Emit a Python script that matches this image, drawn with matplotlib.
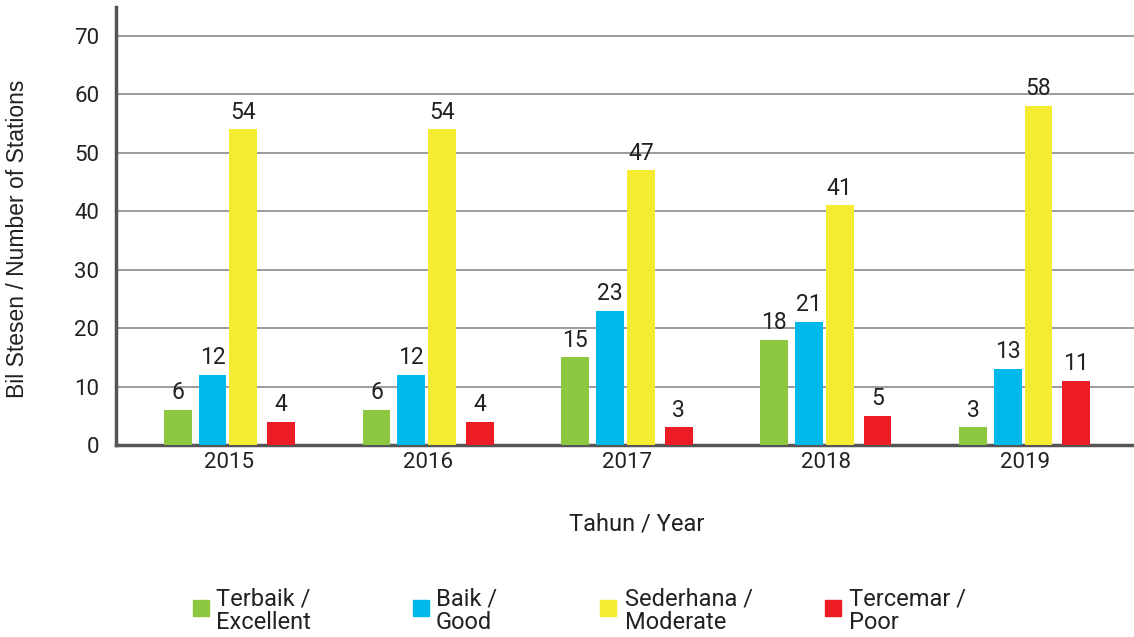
import matplotlib.pyplot as plt
from matplotlib.patches import Rectangle
import numpy as np

# Données : nombre de stations par classe de qualité
annees = ["2015", "2016", "2017", "2018", "2019"]
terbaik = [6, 6, 15, 18, 3]
baik = [12, 12, 23, 21, 13]
sederhana = [54, 54, 47, 41, 58]
tercemar = [4, 4, 3, 5, 11]

libelles = ["Terbaik /\nExcellent", "Baik /\nGood", "Sederhana /\nModerate", "Tercemar /\nPoor"]
couleurs = ["#8DC63F", "#00B9EB", "#F5EB32", "#ED1C24"]
decalages = [-0.26, -0.085, 0.07, 0.26]
largeur = 0.14

plt.rcParams['font.family'] = ['Roboto', 'DejaVu Sans']

fig = plt.figure(figsize=(11.34, 6.37), dpi=100)
ax = fig.add_axes([0.1023, 0.3014, 0.8977, 0.688])

x = np.arange(len(annees))
for serie, couleur, dx in zip([terbaik, baik, sederhana, tercemar], couleurs, decalages):
    barres = ax.bar(x + dx, serie, width=largeur, color=couleur, zorder=3)
    for b, v in zip(barres, serie):
        ax.text(b.get_x() + b.get_width() / 2, v + 1.0, str(v),
                ha='center', va='bottom', fontsize=16.5, color='#222222', zorder=4)

ax.set_xlim(-0.57, 4.55)
ax.set_ylim(0, 75)
ax.set_yticks(range(0, 71, 10))
ax.set_xticks(x)
ax.set_xticklabels(annees)
ax.tick_params(axis='both', length=0, labelsize=16, colors='#222222')
ax.tick_params(axis='y', pad=12)
ax.tick_params(axis='x', pad=5)

ax.grid(axis='y', color='#8a8a8a', linewidth=1.2, zorder=0)
for cote in ['top', 'right']:
    ax.spines[cote].set_visible(False)
ax.spines['left'].set_color('#555555')
ax.spines['left'].set_linewidth(2.5)
ax.spines['bottom'].set_color('#555555')
ax.spines['bottom'].set_linewidth(2.5)

ax.set_ylabel("Bil Stesen / Number of Stations", fontsize=16.5, family='Liberation Sans',
              color='#222222')
ax.yaxis.set_label_coords(-0.085, 0.47)
fig.text(0.5617, 1 - 524 / 637, "Tahun / Year", ha='center', va='center',
         fontsize=17, color='#222222')

# Légende manuelle en bas
pos_carre = [193, 413, 600, 825]
pos_texte = [216, 436, 625, 849]
W, H = 1134, 637
for px, tx, lib, c in zip(pos_carre, pos_texte, libelles, couleurs):
    fig.patches.append(Rectangle((px / W, 1 - 616 / H), 16 / W, 16 / H,
                                 transform=fig.transFigure, color=c))
    fig.text(tx / W, 1 - 611 / H, lib, ha='left', va='center', fontsize=17,
             color='#222222', linespacing=1.05)

fig.savefig("out.png", dpi=100)
